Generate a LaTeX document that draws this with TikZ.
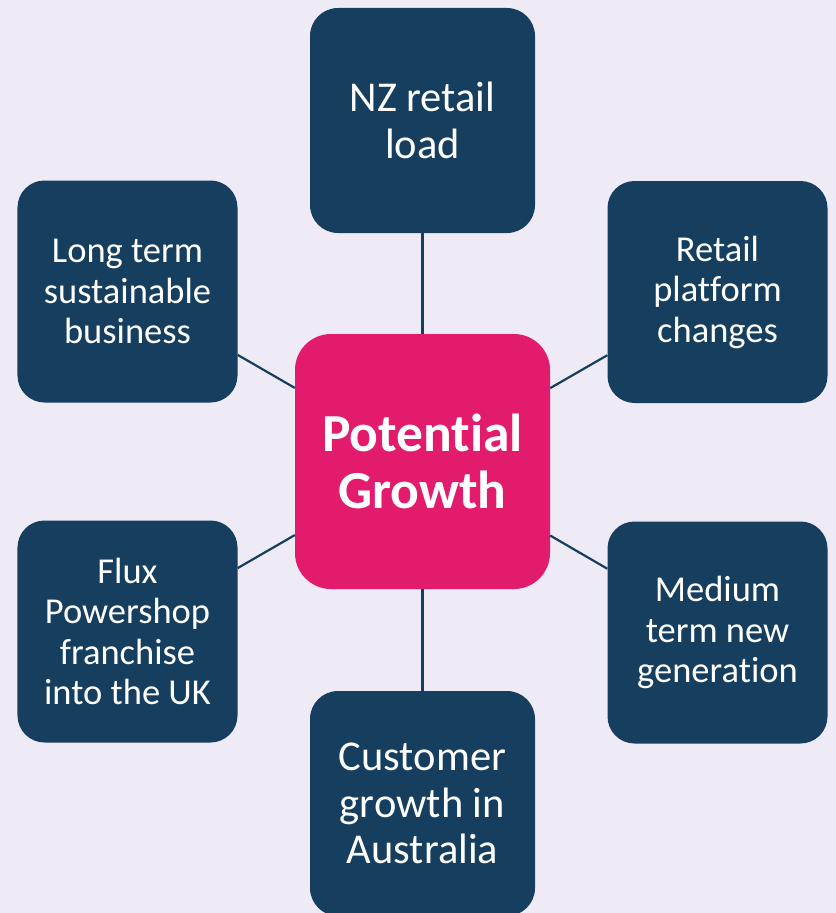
\documentclass[tikz,border=0pt]{standalone}
\usepackage{fontspec}
\setmainfont{Carlito}[Ligatures={NoCommon,NoRare}, Contextuals={NoAlternate}]
\definecolor{bgpage}{HTML}{EFEBF6}
\definecolor{navybox}{HTML}{163E5E}
\definecolor{pinkbox}{HTML}{E31B6D}
\tikzset{
  topicbox/.style={fill=navybox, text=white, rounded corners=27bp, inner sep=0pt,
    align=center, minimum width=220bp, minimum height=222bp,
    font=\fontsize{36.5bp}{40.5bp}\selectfont},
  bigtopic/.style={topicbox, minimum width=225bp, minimum height=225bp,
    rounded corners=28bp, font=\fontsize{42.5bp}{46.5bp}\selectfont},
  hubbox/.style={fill=pinkbox, text=white, rounded corners=36bp, inner sep=0pt,
    align=center, minimum width=255bp, minimum height=255bp,
    font=\fontsize{53.5bp}{57bp}\selectfont\bfseries},
  link/.style={draw=navybox, line width=2.2bp}
}
\begin{document}
\begin{tikzpicture}[x=1bp, y=-1bp]
  \fill[bgpage] (0,0) rectangle (836,913);
  \useasboundingbox (0,0) rectangle (836,913);
  \begin{scope}
    \clip (0,0) rectangle (836,913);
    \node[hubbox] (hub) at (422.5,461.5) {Potential\\Growth};
    \node[bigtopic] (nz) at (422.5,120.5) {NZ retail\\load};
    \node[bigtopic] (aus) at (422.5,803.5) {Customer\\growth in\\Australia};
    \node[topicbox] (lts) at (127.5,291.5) {Long term\\sustainable\\business};
    \node[topicbox] (rpc) at (717.5,292) {Retail\\platform\\changes};
    \node[topicbox] (flux) at (127.5,631.5) {Flux\\Powershop\\franchise\\into the UK};
    \node[topicbox] (mtg) at (717.5,632.5) {Medium\\term new\\generation};
    \draw[link] (hub) -- (nz);
    \draw[link] (hub) -- (aus);
    \draw[link] (hub) -- (lts);
    \draw[link] (hub) -- (rpc);
    \draw[link] (hub) -- (flux);
    \draw[link] (hub) -- (mtg);
  \end{scope}
\end{tikzpicture}
\end{document}
